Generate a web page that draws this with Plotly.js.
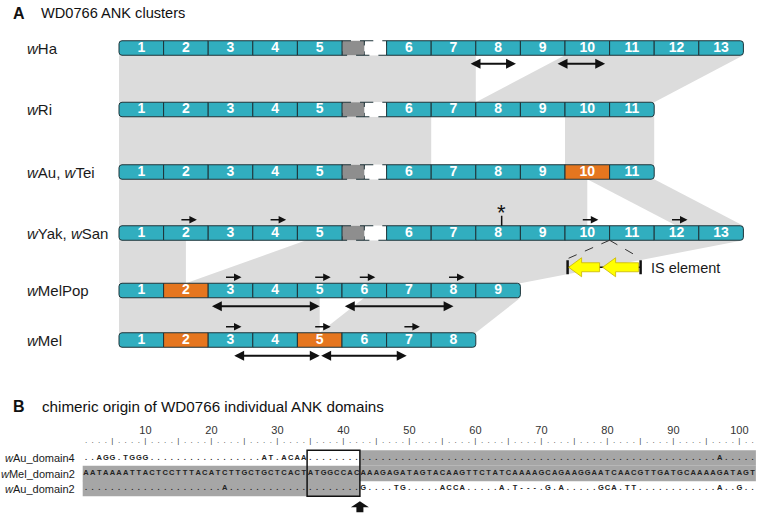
<!DOCTYPE html>
<html>
<head>
<meta charset="utf-8">
<script src="https://cdn.plot.ly/plotly-3.0.1.min.js"></script>
<style>
  html, body { margin: 0; padding: 0; background: #fff; }
  #chart { width: 759px; height: 516px; }
</style>
</head>
<body>
<div id="chart"></div>
<script>
// ---- panel A data ----
const strains = ["wHa", "wRi", "wAu, wTei", "wYak, wSan", "wMelPop", "wMel"];
const domainCounts = [13, 11, 11, 13, 9, 8];
const hasSpacer = [true, true, true, true, false, false];
const chimericDomains = [[], [], [10], [], [2], [2, 5]];
// shaded homology between row i and row i+1, in domain units:
// [top from, top to, bottom from, bottom to]
const homology = [
  [[0, 7, 0, 7], [9, 13, 7, 11]],
  [[0, 6, 0, 6], [9, 11, 9, 11]],
  [[0, 9.5, 0, 9.5], [9.5, 11, 11.5, 13]],
  [[0, 1.5, 0, 1.5], [4.2, 13, 1.5, 9]],
  [[0, 4.5, 0, 4.5], [5.5, 9, 4.5, 8]]
];
const repeatMarks = [[], [], [], [2, 4, 10, 12], [3, 5, 6, 8], [3, 5, 7]];
const duplications = [
  [[6.85, 7.9], [8.8, 9.9]], [], [], [],
  [[2.05, 4.5], [5.03, 7.5]],
  [[2.55, 4.5], [4.5, 6.45]]
];
const mutationRow = 3, mutationAt = 7.58;
const insertionRow = 3, insertionAt = 10;

// ---- panel B data ----
const seqNames = ["wAu_domain4", "wMel_domain2", "wAu_domain2"];
const seqs = [
  "..AGG.TGGG.................AT.ACAA..............................................................A.....",
  "AATAAAATTACTCCTTTACATCTTGCTGCTCACTATGGCCACAAAGAGATAGTACAAGTTCTATCAAAAGCAGAAGGAATCAACGTTGATGCAAAAGATAGT",
  ".....................A....................G....TG.....ACCA.....A.T---.G.A.....GCA.TT............A..G.."
];
const shadedSpans = [[43, 102], [1, 102], [1, 42]];
const boxedSpan = [35, 42];
const breakPoint = 42.5;
const rulerLabels = [10, 20, 30, 40, 50, 60, 70, 80, 90, 100];

// ---- layout constants ----
const X0 = 119, W = 44.6, BOX = 14.5;
const rowY = [48, 109.5, 172, 233, 290.5, 340];
const P0 = 86, DX = 6.6;
const seqRowY = [458, 473.5, 488.5], SEQ_H = 15.5;
const rulerY = 441, rulerLabelY = 431;

const TEAL = "#31aebf", ORANGE = "#e5761f", EDGE = "#1e3338";
const BAND = "#dcdcdc", SPACER = "#8e8e8e", SEQ_GREY = "#a6a6a6";
const FONT = "Liberation Sans, Arial, sans-serif";

function edgeX(row, pos) { return X0 + (hasSpacer[row] && pos > 5 ? pos + 1 : pos) * W; }
function domainLeft(row, d) { return X0 + (hasSpacer[row] && d > 5 ? d : d - 1) * W; }
function seqX(p) { return P0 + (p - 1) * DX; }
function italW(s) { return s.replace(/\bw(?=[A-Z])/g, "<i>w</i>"); }

function roundRect(x0, x1, y0, y1, rl, rr) {
  return `M${x0 + rl},${y0} L${x1 - rr},${y0} Q${x1},${y0} ${x1},${y0 + rr} L${x1},${y1 - rr} ` +
    `Q${x1},${y1} ${x1 - rr},${y1} L${x0 + rl},${y1} Q${x0},${y1} ${x0},${y1 - rl} L${x0},${y0 + rl} Q${x0},${y0} ${x0 + rl},${y0} Z`;
}
function shape(o) { return Object.assign({xref: "x", yref: "y", layer: "below"}, o); }

const shapes = [];
const annotations = [];

// homology bands
homology.forEach((blocks, i) => {
  const yt = rowY[i] + BOX / 2, yb = rowY[i + 1] - BOX / 2;
  blocks.forEach(b => {
    shapes.push(shape({
      type: "path", fillcolor: BAND, line: {width: 0},
      path: `M${edgeX(i, b[0])},${yt} L${edgeX(i, b[1])},${yt} L${edgeX(i + 1, b[3])},${yb} L${edgeX(i + 1, b[2])},${yb} Z`
    }));
  });
});

// domain boxes
const numX = [], numY = [], numT = [];
strains.forEach((s, i) => {
  const y0 = rowY[i] - BOX / 2, y1 = rowY[i] + BOX / 2;
  if (hasSpacer[i]) {
    const g0 = X0 + 5 * W;
    shapes.push(shape({type: "rect", x0: g0 + W / 2, x1: g0 + W, y0: y0, y1: y1, fillcolor: "#fff",
      line: {color: EDGE, width: 1, dash: "dash"}}));
    shapes.push(shape({type: "rect", x0: g0, x1: g0 + W / 2, y0: y0, y1: y1, fillcolor: SPACER,
      line: {color: EDGE, width: 1, dash: "dash"}}));
  }
  for (let d = 1; d <= domainCounts[i]; d++) {
    const x0 = domainLeft(i, d), x1 = x0 + W;
    shapes.push(shape({
      type: "path",
      path: roundRect(x0, x1, y0, y1, d === 1 ? 3 : 0, d === domainCounts[i] ? 3 : 0),
      fillcolor: chimericDomains[i].includes(d) ? ORANGE : TEAL,
      line: {color: EDGE, width: 1}
    }));
    numX.push(x0 + W / 2); numY.push(rowY[i]); numT.push("<b>" + d + "</b>");
  }
  annotations.push({x: 25, y: rowY[i], xref: "x", yref: "y", xanchor: "left", yanchor: "middle",
    text: italW(s), showarrow: false, font: {family: FONT, size: 15, color: "#1a1a1a"}});
});

// small repeat arrows above domains
repeatMarks.forEach((list, i) => {
  list.forEach(d => {
    const c = domainLeft(i, d) + W / 2;
    const y = rowY[i] - BOX / 2 - 6;
    annotations.push({x: c + 11, y: y, ax: c - 6, ay: y, xref: "x", yref: "y", axref: "x", ayref: "y",
      text: "", showarrow: true, arrowhead: 2, arrowsize: 1, arrowwidth: 1.5, arrowcolor: "#111", standoff: 0});
  });
});

// duplication double arrows below rows
duplications.forEach((list, i) => {
  list.forEach(sp => {
    const y = rowY[i] + BOX / 2 + 8.5;
    annotations.push({x: edgeX(i, sp[1]), y: y, ax: edgeX(i, sp[0]), ay: y,
      xref: "x", yref: "y", axref: "x", ayref: "y", text: "", showarrow: true,
      arrowside: "end+start", arrowhead: 2, startarrowhead: 2, arrowsize: 1.1, startarrowsize: 1.1,
      arrowwidth: 1.8, arrowcolor: "#111", standoff: 0, startstandoff: 0});
  });
});

// point mutation marker
{
  const xm = edgeX(mutationRow, mutationAt);
  const yTop = rowY[mutationRow] - BOX / 2;
  shapes.push(shape({type: "line", x0: xm, x1: xm, y0: yTop, y1: yTop - 10, line: {color: "#111", width: 1.5}}));
  annotations.push({x: xm, y: yTop - 13.5, xref: "x", yref: "y", text: "*", showarrow: false,
    font: {family: FONT, size: 22, color: "#111"}});
}

// IS element insertion
{
  const xa = edgeX(insertionRow, insertionAt);
  const yb = rowY[insertionRow] + BOX / 2;
  const yi = yb + 27;
  shapes.push(shape({type: "line", x0: xa, y0: yb, x1: xa - 41, y1: yi - 9, line: {color: "#333", width: 1, dash: "dash"}}));
  shapes.push(shape({type: "line", x0: xa, y0: yb, x1: xa + 31, y1: yi - 9, line: {color: "#333", width: 1, dash: "dash"}}));
  shapes.push(shape({type: "line", x0: xa - 42, y0: yi, x1: xa + 31, y1: yi, line: {color: "#111", width: 1.5}}));
  shapes.push(shape({type: "line", x0: xa - 42, y0: yi - 7, x1: xa - 42, y1: yi + 7, line: {color: "#111", width: 2.5}}));
  shapes.push(shape({type: "line", x0: xa + 31, y0: yi - 7, x1: xa + 31, y1: yi + 7, line: {color: "#111", width: 2.5}}));
  [[xa - 41, xa - 10], [xa - 7, xa + 29]].forEach(([a, b]) => {
    shapes.push(shape({
      type: "path", fillcolor: "#ffff00", line: {color: "#c9b400", width: 0.8},
      path: `M${a},${yi} L${a + 13},${yi - 9.5} L${a + 13},${yi - 4.5} L${b},${yi - 4.5} L${b},${yi + 4.5} ` +
        `L${a + 13},${yi + 4.5} L${a + 13},${yi + 9.5} Z`
    }));
  });
  annotations.push({x: xa + 39, y: yi + 1, xref: "x", yref: "y", xanchor: "left", yanchor: "middle",
    text: "IS element", showarrow: false, font: {family: FONT, size: 14.5, color: "#1a1a1a"}});
}

// ---- panel B ----
shadedSpans.forEach((sp, i) => {
  shapes.push(shape({type: "rect", x0: seqX(sp[0]) - DX / 2, x1: seqX(sp[1]) + DX / 2,
    y0: seqRowY[i] - SEQ_H / 2, y1: seqRowY[i] + SEQ_H / 2, fillcolor: SEQ_GREY, line: {width: 0}}));
  annotations.push({x: 77, y: seqRowY[i], xref: "x", yref: "y", xanchor: "right", yanchor: "middle",
    text: italW(seqNames[i]), showarrow: false, font: {family: FONT, size: 11, color: "#1a1a1a"}});
});
shapes.push(shape({type: "rect", x0: seqX(boxedSpan[0]) - DX / 2, x1: seqX(boxedSpan[1]) + DX / 2,
  y0: seqRowY[0] - SEQ_H / 2, y1: seqRowY[2] + SEQ_H / 2, line: {color: "#111", width: 1.5}}));
{
  const xb = seqX(breakPoint);
  const yt = seqRowY[2] + SEQ_H / 2 + 5;
  shapes.push(shape({type: "path", fillcolor: "#111", line: {width: 0},
    path: `M${xb},${yt} L${xb + 9},${yt + 6} L${xb + 3.5},${yt + 6} L${xb + 3.5},${yt + 11} ` +
      `L${xb - 3.5},${yt + 11} L${xb - 3.5},${yt + 6} L${xb - 9},${yt + 6} Z`}));
}

const seqTx = [], seqTy = [], seqTt = [];
seqs.forEach((s, i) => {
  s.split("").forEach((ch, k) => { seqTx.push(seqX(k + 1)); seqTy.push(seqRowY[i]); seqTt.push(ch); });
});
const rulX = [], rulY = [], rulT = [];
for (let p = 1; p <= seqs[1].length; p++) {
  rulX.push(seqX(p)); rulY.push(rulerY); rulT.push(p % 5 === 0 ? "|" : ".");
}

// panel titles
annotations.push(
  {x: 11, y: 13, xref: "x", yref: "y", xanchor: "left", yanchor: "middle", text: "<b>A</b>", showarrow: false,
    font: {family: FONT, size: 16, color: "#111"}},
  {x: 39, y: 13, xref: "x", yref: "y", xanchor: "left", yanchor: "middle", text: "WD0766 ANK clusters", showarrow: false,
    font: {family: FONT, size: 14.6, color: "#111"}},
  {x: 11, y: 406, xref: "x", yref: "y", xanchor: "left", yanchor: "middle", text: "<b>B</b>", showarrow: false,
    font: {family: FONT, size: 16, color: "#111"}},
  {x: 40, y: 406, xref: "x", yref: "y", xanchor: "left", yanchor: "middle",
    text: "chimeric origin of WD0766 individual ANK domains", showarrow: false,
    font: {family: FONT, size: 15.2, color: "#111"}}
);

const traces = [
  {type: "scatter", mode: "text", x: numX, y: numY, text: numT, textposition: "middle center",
    textfont: {family: FONT, size: 14, color: "#ffffff"}, hoverinfo: "skip", cliponaxis: false},
  {type: "scatter", mode: "text", x: seqTx, y: seqTy, text: seqTt, textposition: "middle center",
    textfont: {family: FONT, size: 7.5, color: "#222", weight: "bold"}, hoverinfo: "skip", cliponaxis: false},
  {type: "scatter", mode: "text", x: rulX, y: rulY, text: rulT, textposition: "middle center",
    textfont: {family: FONT, size: 8, color: "#444"}, hoverinfo: "skip", cliponaxis: false},
  {type: "scatter", mode: "text", x: rulerLabels.map(seqX), y: rulerLabels.map(() => rulerLabelY),
    text: rulerLabels.map(String), textposition: "middle center",
    textfont: {family: FONT, size: 11, color: "#333"}, hoverinfo: "skip", cliponaxis: false}
];

const layout = {
  width: 759, height: 516,
  margin: {l: 0, r: 0, t: 0, b: 0},
  paper_bgcolor: "#fff", plot_bgcolor: "#fff",
  showlegend: false,
  xaxis: {range: [0, 759], visible: false, fixedrange: true},
  yaxis: {range: [516, 0], visible: false, fixedrange: true},
  shapes: shapes,
  annotations: annotations
};

Plotly.newPlot("chart", traces, layout, {displayModeBar: false, staticPlot: true});
</script>
</body>
</html>
